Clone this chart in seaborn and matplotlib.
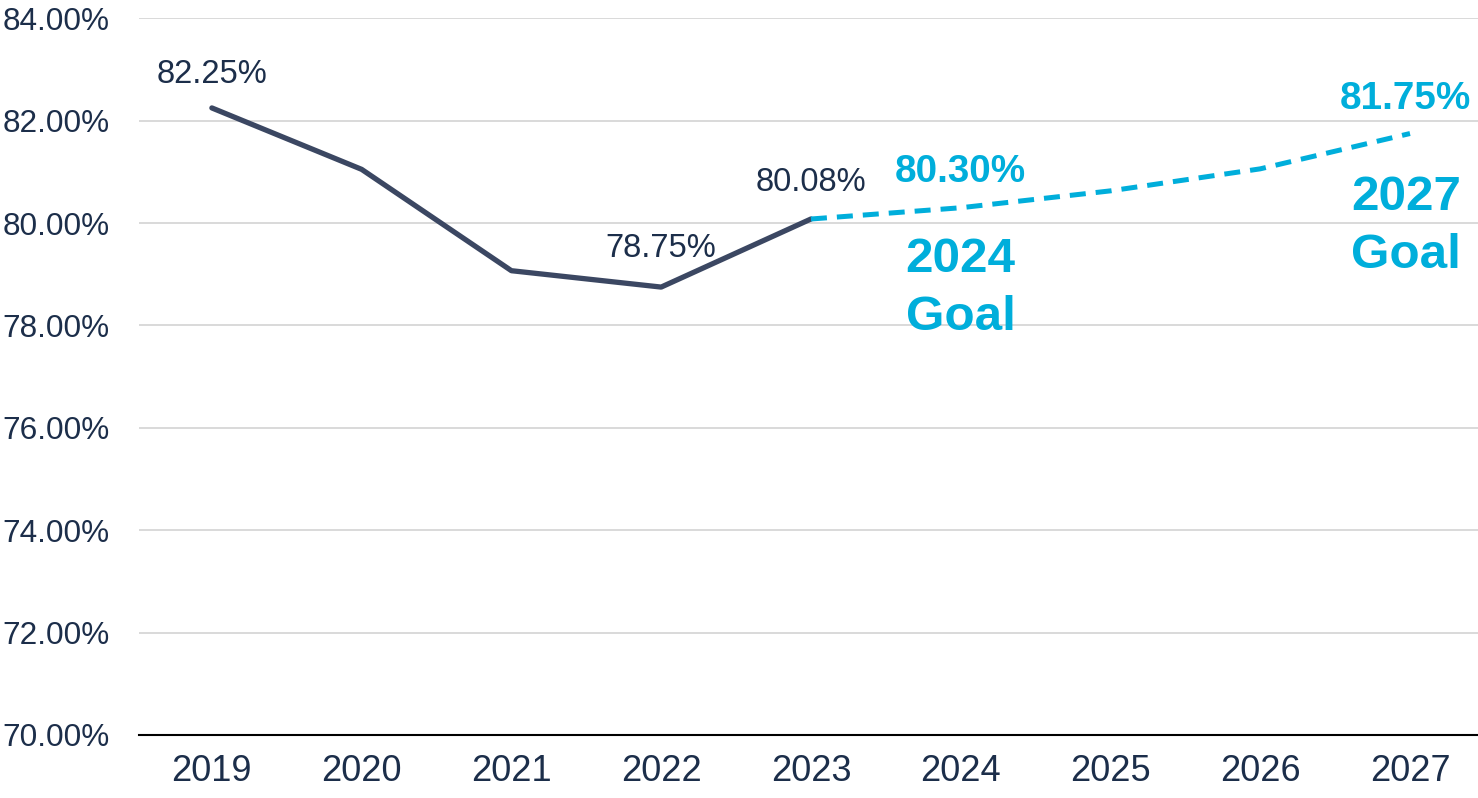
import numpy as np
import pandas as pd
import matplotlib
matplotlib.use("Agg")
import matplotlib.pyplot as plt
import seaborn as sns
from matplotlib.ticker import FuncFormatter

# data
years = ['2019', '2020', '2021', '2022', '2023', '2024', '2025', '2026', '2027']
actual = [82.25, 81.05, 79.07, 78.75, 80.08, np.nan, np.nan, np.nan, np.nan]
goal_path = [np.nan, np.nan, np.nan, np.nan, 80.08, 80.30, 80.63, 81.06, 81.75]

NAVY = '#3b4762'
TEXT = '#1c2e4a'
CYAN = '#00aedb'

df = pd.DataFrame({'Year': years, 'Actual': actual, 'Goal': goal_path})

sns.set_style('white')
plt.rcParams['font.family'] = ['Liberation Sans', 'DejaVu Sans']

fig = plt.figure(figsize=(14.78, 7.98), dpi=100)
ax = fig.add_axes([0.094, 0.079, 0.906, 0.898])

sns.lineplot(data=df, x='Year', y='Actual', ax=ax, color=NAVY, linewidth=3.8, sort=False)
sns.lineplot(data=df, x='Year', y='Goal', ax=ax, color=CYAN, linewidth=3.6, sort=False,
             linestyle=(0, (3.2, 2.0)))

ax.set_ylim(70, 84)
ax.set_yticks(np.arange(70, 84.1, 2))
ax.set_xlim(-0.487, len(years) - 1 + 0.454)
ax.yaxis.set_major_formatter(FuncFormatter(lambda v, p: f'{v:.2f}%'))
ax.grid(axis='y', color='#d9d9d9', linewidth=1.4)
ax.set_axisbelow(True)
for s in ['top', 'right', 'left']:
    ax.spines[s].set_visible(False)
ax.spines['bottom'].set_color('black')
ax.spines['bottom'].set_linewidth(1.5)
ax.tick_params(axis='both', length=0, colors=TEXT)
ax.tick_params(axis='x', pad=14, labelsize=26)
ax.tick_params(axis='y', pad=21, labelsize=22.7)
ax.set_xlabel('')
ax.set_ylabel('')

# value labels
def label(i, val, txt, dy, color=TEXT, weight='normal', size=23.6, dx=0):
    ax.annotate(txt, (i, val), xytext=(dx, dy), textcoords='offset points',
                ha='center', va='center', fontsize=size, color=color, fontweight=weight)

label(0, actual[0], '82.25%', 24)
label(3, actual[3], '78.75%', 28)
label(4, actual[4], '80.08%', 26)
label(5, goal_path[5], '80.30%', 26, color=CYAN, weight='bold', size=27.8)
label(8, goal_path[8], '81.75%', 25, color=CYAN, weight='bold', size=27.8, dx=-3)

ax.annotate('2024\nGoal', (5, goal_path[5]), xytext=(0, -58), textcoords='offset points',
            ha='center', va='center', fontsize=35.6, color=CYAN, fontweight='bold', linespacing=1.38)
ax.annotate('2027\nGoal', (8, goal_path[8]), xytext=(-3, -67), textcoords='offset points',
            ha='center', va='center', fontsize=35.6, color=CYAN, fontweight='bold', linespacing=1.38)

plt.savefig('out.png', dpi=100)
